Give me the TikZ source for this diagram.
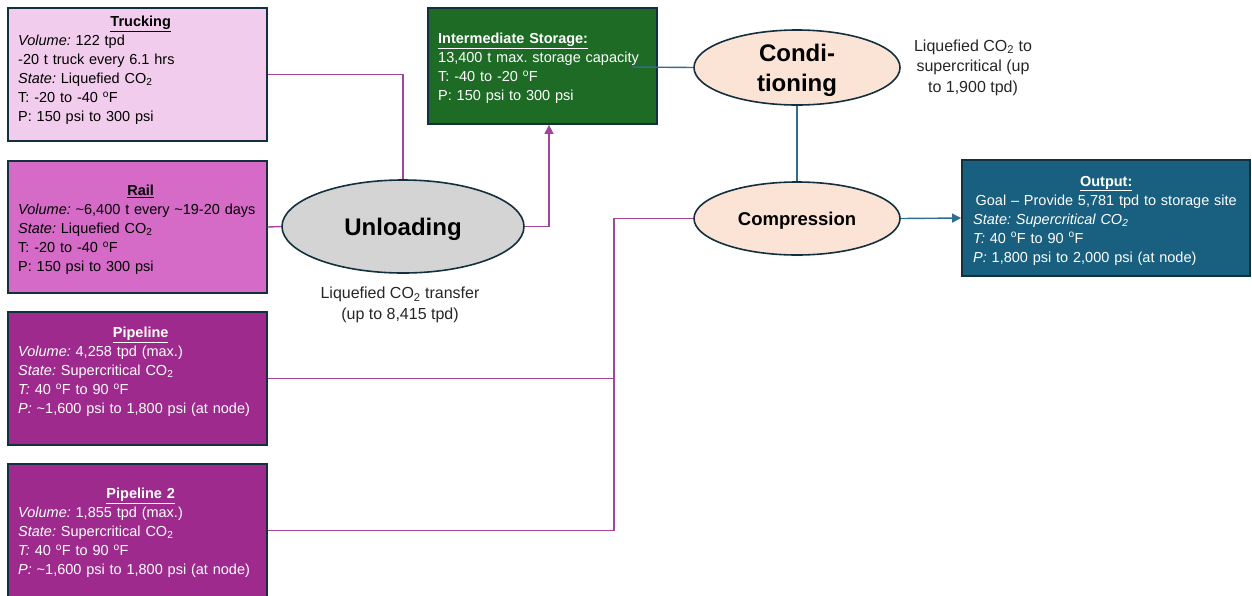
\documentclass[tikz,border=0pt]{standalone}
\usepackage{fontspec}
\setmainfont{Liberation Sans}
\usetikzlibrary{shapes.geometric,arrows.meta}
\frenchspacing

\definecolor{edgecol}{HTML}{13303F}
\definecolor{truckfill}{HTML}{F2CCEC}
\definecolor{railfill}{HTML}{D56BC7}
\definecolor{pipefill}{HTML}{9E2A8E}
\definecolor{storefill}{HTML}{1D6B25}
\definecolor{outfill}{HTML}{185F80}
\definecolor{unloadfill}{HTML}{D4D4D4}
\definecolor{procfill}{HTML}{FBE3D6}
\definecolor{purpleline}{HTML}{A5449E}
\definecolor{tealline}{HTML}{2E6F8F}

\newcommand\degF{\textsuperscript{o}F}
\newcommand\cotwo{CO\textsubscript{2}}
\newcommand\boxtitle[2]{\makebox[#1][c]{\textbf{\underline{#2}}}}

\begin{document}
\begin{tikzpicture}[x=1pt,y=-1pt,
  infobox/.style={draw=edgecol, line width=1.8pt, rectangle, inner sep=0pt},
  proc/.style={draw=edgecol, line width=1.6pt, ellipse, inner sep=0pt, fill=procfill, text=black, text depth=0pt},
  body/.style={inner sep=0pt, align=left, anchor=west, font=\fontsize{14.5}{19}\selectfont},
  note/.style={inner sep=0pt, align=center, font=\fontsize{16}{20.5}\selectfont, text=black!85},
  pline/.style={draw=purpleline, line width=1.4pt},
  tline/.style={draw=tealline, line width=1.4pt},
  tip/.style={-{Triangle[length=9pt,width=9pt]}}
]
\useasboundingbox (0,0) rectangle (1252,595);

% source boxes
\node[infobox, fill=truckfill, minimum width=259pt, minimum height=133pt] (truck) at (137.5,74.5) {};
\node[infobox, fill=railfill, minimum width=259pt, minimum height=132pt] (rail) at (137.5,227) {};
\node[infobox, fill=pipefill, minimum width=259pt, minimum height=133pt] (pipe) at (137.5,378.5) {};
\node[infobox, fill=pipefill, minimum width=259pt, minimum height=133pt] (pipetwo) at (137.5,530.5) {};

\node[body, text width=245pt] (trucktxt) at (18,70.5) {\boxtitle{245pt}{Trucking}\\
  \textit{Volume:} 122 tpd\\
  -20 t truck every 6.1 hrs\\
  \textit{State:} Liquefied \cotwo\\
  T: -20 to -40 \degF\\
  P: 150 psi to 300 psi};

\node[body, text width=245pt] (railtxt) at (18,230) {\boxtitle{245pt}{Rail}\\
  \textit{Volume:} \textasciitilde6,400 t every \textasciitilde19-20 days\\
  \textit{State:} Liquefied \cotwo\\
  T: -20 to -40 \degF\\
  P: 150 psi to 300 psi};

\node[body, text width=245pt, text=white] (pipetxt) at (18,372) {\boxtitle{245pt}{Pipeline}\\
  \textit{Volume:} 4,258 tpd (max.)\\
  \textit{State:} Supercritical \cotwo\\
  \textit{T:} 40 \degF{} to 90 \degF\\
  \textit{P:} \textasciitilde1,600 psi to 1,800 psi (at node)};

\node[body, text width=245pt, text=white] (pipetwotxt) at (18,533) {\boxtitle{245pt}{Pipeline 2}\\
  \textit{Volume:} 1,855 tpd (max.)\\
  \textit{State:} Supercritical \cotwo\\
  \textit{T:} 40 \degF{} to 90 \degF\\
  \textit{P:} \textasciitilde1,600 psi to 1,800 psi (at node)};

% storage and output boxes
\node[infobox, fill=storefill, minimum width=229pt, minimum height=116pt] (store) at (542.5,66) {};
\node[body, text width=215pt, text=white] (storetxt) at (438,68.5) {\textbf{\underline{Intermediate Storage:}}\\
  13,400 t max. storage capacity\\
  T: -40 to -20 \degF\\
  P: 150 psi to 300 psi};

\node[infobox, fill=outfill, minimum width=288pt, minimum height=116pt] (out) at (1106,218) {};
\node[body, text width=266pt, text=white] (outtxt) at (973,220.5) {\boxtitle{266pt}{Output:}\\
  \makebox[266pt][c]{Goal -- Provide 5,781 tpd to storage site}\\
  \textit{State: Supercritical CO\textsubscript{2}}\\
  \textit{T:} 40 \degF{} to 90 \degF\\
  \textit{P:} 1,800 psi to 2,000 psi (at node)};

% process ellipses
\node[proc, fill=unloadfill, minimum width=242pt, minimum height=93pt,
  font=\bfseries\fontsize{24}{29}\selectfont] (unload) at (403,226.5) {Unloading};
\node[proc, minimum width=206pt, minimum height=75pt, align=center,
  font=\bfseries\fontsize{24}{30}\selectfont] (cond) at (797,67.5) {Condi-\\tioning};
\node[proc, minimum width=206pt, minimum height=73pt,
  font=\bfseries\fontsize{18.5}{22}\selectfont] (comp) at (797,218.5) {Compression};

% notes
\node[note] (unloadnote) at (400,305) {Liquefied \cotwo{} transfer\\(up to 8,415 tpd)};
\node[note] (condnote) at (973,67.5) {Liquefied \cotwo{} to\\supercritical (up\\to 1,900 tpd)};

% connectors
\coordinate (storein) at (632,67);
\coordinate (bus) at (614,0);

\draw[pline] (truck.east) -| (unload.north);
\draw[pline] (rail.east) -- (unload.west);
\draw[pline, tip, color=purpleline] (unload.east) -| ([xshift=6.5pt]store.south);
\draw[tline] (storein) -- (cond.west);
\draw[tline] (cond.south) -- (comp.north);
\draw[tline, tip, color=tealline] (comp.east) -- (out.west);
\draw[pline] (pipe.east) -- (pipe.east -| bus);
\draw[pline] (pipetwo.east) -| (bus |- comp.west) -- (comp.west);
\end{tikzpicture}
\end{document}
